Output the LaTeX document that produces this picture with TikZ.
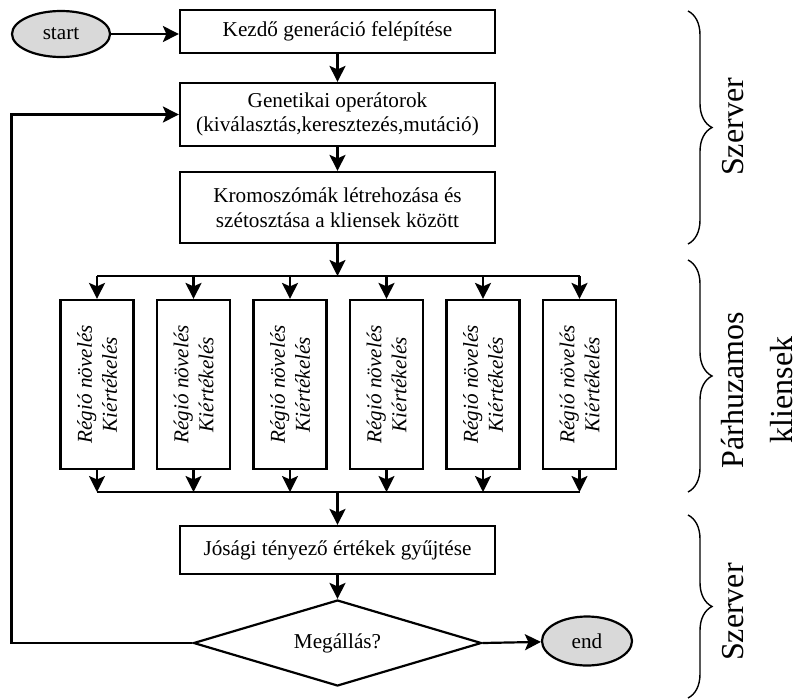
\documentclass[tikz,border=0pt]{standalone}
\usepackage{fontspec}
\setmainfont{Liberation Serif}
\usetikzlibrary{shapes.geometric, arrows.meta, decorations.pathreplacing}

\begin{document}
\begin{tikzpicture}[x=1pt, y=1pt,
    every node/.style={font=\fontsize{21.2}{24.5}\selectfont},
    box/.style={draw, line width=2.2pt, minimum width=315pt, align=center, inner sep=0pt},
    ell/.style={draw, ellipse, line width=2.2pt, fill=gray!30, inner sep=0pt},
    subbox/.style={draw, line width=2.2pt, minimum width=169pt, minimum height=73pt,
      inner sep=0pt, rotate=90, align=center, font=\fontsize{21.2}{25}\selectfont\itshape},
    arr/.style={line width=2.2pt, -{Stealth[length=16pt, width=16pt, inset=3.5pt]}},
    brc/.style={line width=1.4pt, decorate, decoration={brace, amplitude=24pt}},
    side/.style={rotate=90, align=center, font=\fontsize{32}{49}\selectfont}]
  \useasboundingbox (0,0) rectangle (800,-699);

  \node[ell, minimum width=98pt, minimum height=46pt] (st) at (61, -34) {start};
  \node[box, minimum height=43pt] (kezd) at (337.5, -31.5) {Kezdő generáció felépítése};
  \node[box, minimum height=63pt] (gen) at (337.5, -114.5)
    {Genetikai operátorok\\(kiválasztás,keresztezés,mutáció)};
  \node[box, minimum height=71pt] (krom) at (337.5, -207.5)
    {Kromoszómák létrehozása és\\szétosztása a kliensek között};

  % parallel clients
  \coordinate (fork) at (337.5, -276);
  \coordinate (join) at (337.5, -492);
  \foreach \i in {0,...,5} {
    \node[subbox] (r\i) at (97+96.5*\i, -384.5) {Régió növelés\\Kiértékelés};
    \coordinate (t\i) at (97+96.5*\i, -276);
    \coordinate (b\i) at (97+96.5*\i, -492);
    \draw[arr] (t\i) -- (r\i.east);
    \draw[arr] (r\i.west) -- (b\i);
  }
  \draw[line width=2.2pt] (t0) -- (t5);
  \draw[line width=2.2pt] (b0) -- (b5);

  \node[box, minimum height=48pt] (jos) at (337.5, -550) {Jósági tényező értékek gyűjtése};
  \node[draw, diamond, line width=2.2pt, aspect=3.35, minimum width=288pt,
    minimum height=86pt, inner sep=0pt] (stop) at (337.5, -643) {Megállás?};
  \node[ell, minimum width=90pt, minimum height=49pt] (end) at (587, -641) {end};

  \draw[arr] (st.east) -- (st.east -| kezd.west);
  \draw[arr] (kezd) -- (gen);
  \draw[arr] (gen) -- (krom);
  \draw[arr] (krom.south) -- (fork);
  \draw[arr] (join) -- (jos.north);
  \draw[arr] (jos) -- (stop);
  \draw[arr] (stop.east) -- (end);
  \draw[arr] (stop.west) -- ++(-181, 0) |- (gen.west);

  % braces on the right
  \draw[brc] (688, -11) -- (688, -244);
  \draw[brc] (688, -260) -- (688, -492);
  \draw[brc] (688, -515) -- (688, -698);
  \node[side] (sz1) at (733, -127) {Szerver};
  \node[side] (pk) at (757.5, -390) {Párhuzamos\\kliensek};
  \node[side] (sz2) at (733, -612) {Szerver};
\end{tikzpicture}
\end{document}
